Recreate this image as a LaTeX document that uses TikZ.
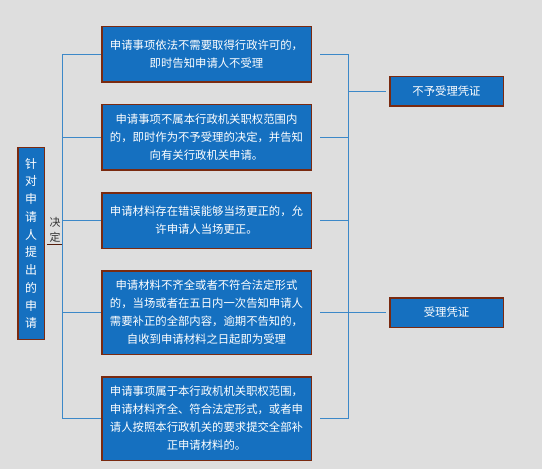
\documentclass[tikz,border=0pt]{standalone}
\usepackage{fontspec}
\newfontfamily\cjk{Noto Sans CJK SC}
\usetikzlibrary{positioning}
\definecolor{boxblue}{HTML}{1570C0}
\definecolor{boxedge}{HTML}{7A2A10}
\definecolor{linkblue}{HTML}{3C88C8}
\definecolor{bggray}{HTML}{DEDEDE}

\begin{document}
\begin{tikzpicture}[
  x=1bp, y=-1bp,
  node distance=21bp,
  box/.style={draw=boxedge, line width=1.5bp, fill=boxblue, text=white, align=center,
    font=\cjk\fontsize{11.4}{18}\selectfont, minimum width=209.5bp, inner sep=0pt},
  side/.style={box, minimum width=113.5bp, minimum height=29.5bp},
  link/.style={draw=linkblue, line width=1bp}
]
\fill[bggray] (0,0) rectangle (542,469);
\useasboundingbox (0,0) rectangle (542,469);

\node[box, minimum height=55.5bp] (b1) at (206.5,54.5) {申请事项依法不需要取得行政许可的，\\即时告知申请人不受理};
\node[box, minimum height=65.5bp, below=of b1] (b2) {申请事项不属本行政机关职权范围内\\的，即时作为不予受理的决定，并告知\\向有关行政机关申请。};
\node[box, minimum height=55.5bp, below=of b2] (b3) {申请材料存在错误能够当场更正的，允\\许申请人当场更正。};
\node[box, minimum height=83.5bp, below=of b3] (b4) {申请材料不齐全或者不符合法定形式\\的，当场或者在五日内一次告知申请人\\需要补正的全部内容，逾期不告知的，\\自收到申请材料之日起即为受理};
\node[box, minimum height=83.5bp, below=of b4] (b5) {申请事项属于本行政机机关职权范围，\\申请材料齐全、符合法定形式，或者申\\请人按照本行政机关的要求提交全部补\\正申请材料的。};

\node[box, minimum width=26.5bp, minimum height=191.5bp, font=\cjk\fontsize{12}{17.8}\selectfont] (src) at (31,243.5) {针\\对\\申\\请\\人\\提\\出\\的\\申\\请};
\node[align=center, inner sep=0pt, text=black!80, font=\cjk\fontsize{11}{15}\selectfont] (dec) at (55,230) {决\\定};
\draw[boxedge!70!black, line width=1bp] ([xshift=-8bp, yshift=-1.5bp]dec.south) -- ([xshift=7bp, yshift=-1.5bp]dec.south);

\node[side] (o1) at (446.5,91.5) {不予受理凭证};
\node[side] (o2) at (o1 |- b4) {受理凭证};

\coordinate (lbus) at (62,0);
\coordinate (rbus) at (348,0);

\foreach \b in {b1,b2,b3,b4,b5} {
  \draw[link] (\b.west) -- (\b.west -| lbus);
  \draw[link, shorten <=8bp] (\b.east) -- (\b.east -| rbus);
}
\draw[link] (b1.west -| lbus) -- (b5.west -| lbus);
\draw[link] (b1.east -| rbus) -- (b5.east -| rbus);
\draw[link, shorten >=3bp] (o1.west -| rbus) -- (o1.west);
\draw[link, shorten >=3bp] (o2.west -| rbus) -- (o2.west);
\end{tikzpicture}
\end{document}
